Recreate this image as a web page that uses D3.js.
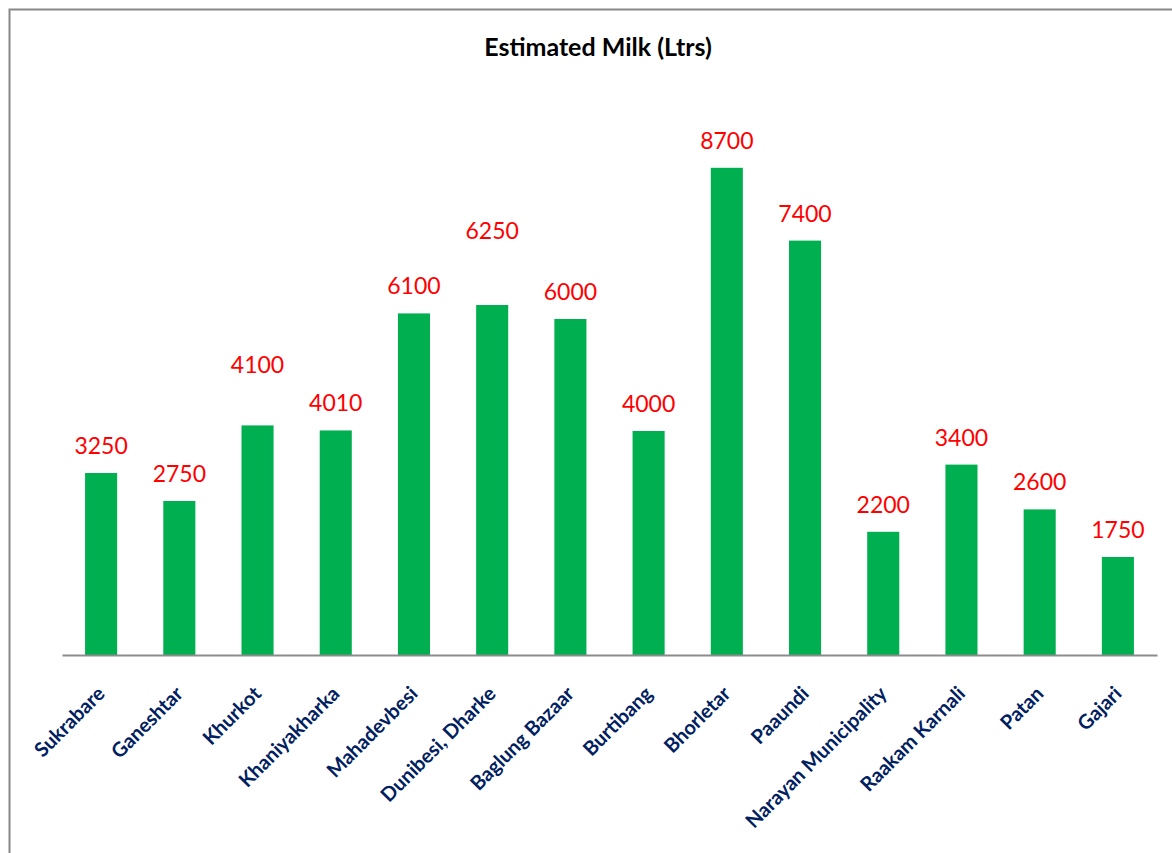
<!DOCTYPE html>
<html>
<head>
<meta charset="utf-8">
<script src="https://cdn.jsdelivr.net/npm/d3@7"></script>
<style>
  html, body { margin: 0; padding: 0; background: #fff; }
  svg { display: block; }
</style>
</head>
<body>
<div id="container"></div>
<script>
// Chart data
const places = [
  "Sukrabare", "Ganeshtar", "Khurkot", "Khaniyakharka", "Mahadevbesi",
  "Dunibesi, Dharke", "Baglung Bazaar", "Burtibang", "Bhorletar", "Paaundi",
  "Narayan Municipality", "Raakam Karnali", "Patan", "Gajari"
];
const milkLitres = [3250, 2750, 4100, 4010, 6100, 6250, 6000, 4000, 8700, 7400, 2200, 3400, 2600, 1750];
const chartTitle = "Estimated Milk (Ltrs)";

const width = 1172;
const height = 853;
const marginTop = 95;
const marginRight = 15;
const marginBottom = 198; // baseline sits at y = 655
const marginLeft = 62;

// a couple of labels were dragged upward in the original
const labelLift = { "Khurkot": 33, "Dunibesi, Dharke": 47 };

const data = places.map((name, i) => ({ name, value: milkLitres[i] }));

const svg = d3.create("svg").attr("width", width).attr("height", height);

// chart frame
svg.append("rect")
  .attr("x", 9.5).attr("y", 9.5)
  .attr("width", width + 20).attr("height", height + 20)
  .attr("fill", "none")
  .attr("stroke", "#888")
  .attr("stroke-width", 2);

const x = d3.scaleBand()
  .domain(places)
  .range([marginLeft, width - marginRight])
  .paddingInner(0.59)
  .paddingOuter(0.295);

const y = d3.scaleLinear()
  .domain([0, 10000])
  .range([height - marginBottom, marginTop]);

// bars
svg.append("g")
  .selectAll("rect")
  .data(data)
  .join("rect")
  .attr("fill", "#00B050")
  .attr("x", d => x(d.name))
  .attr("y", d => y(d.value))
  .attr("width", x.bandwidth())
  .attr("height", d => y(0) - y(d.value));

// value labels
svg.append("g")
  .selectAll("text")
  .data(data)
  .join("text")
  .attr("x", d => x(d.name) + x.bandwidth() / 2)
  .attr("y", d => y(d.value) - 19 - (labelLift[d.name] || 0))
  .attr("text-anchor", "middle")
  .attr("font-family", "Lato, sans-serif")
  .attr("font-size", "23px")
  .attr("fill", "#FF0000")
  .text(d => d.value);

// x axis
const xAxis = svg.append("g")
  .attr("transform", `translate(0,${height - marginBottom})`)
  .call(d3.axisBottom(x).tickSize(0).tickSizeOuter(0));

xAxis.select(".domain")
  .attr("stroke", "#8c8c8c")
  .attr("stroke-width", 2);

xAxis.selectAll(".tick text")
  .attr("font-family", "Lato, sans-serif")
  .attr("font-size", "20px")
  .attr("font-weight", "bold")
  .attr("fill", "#002060")
  .attr("text-anchor", "end")
  .attr("x", 0)
  .attr("y", 0)
  .attr("dy", 0)
  .attr("transform", "translate(5,40) rotate(-45)");

// title
svg.append("text")
  .attr("x", 598)
  .attr("y", 56)
  .attr("text-anchor", "middle")
  .attr("font-family", "Lato, sans-serif")
  .attr("font-size", "25px")
  .attr("font-weight", "bold")
  .attr("fill", "#000")
  .text(chartTitle);

document.getElementById("container").append(svg.node());
</script>
</body>
</html>
